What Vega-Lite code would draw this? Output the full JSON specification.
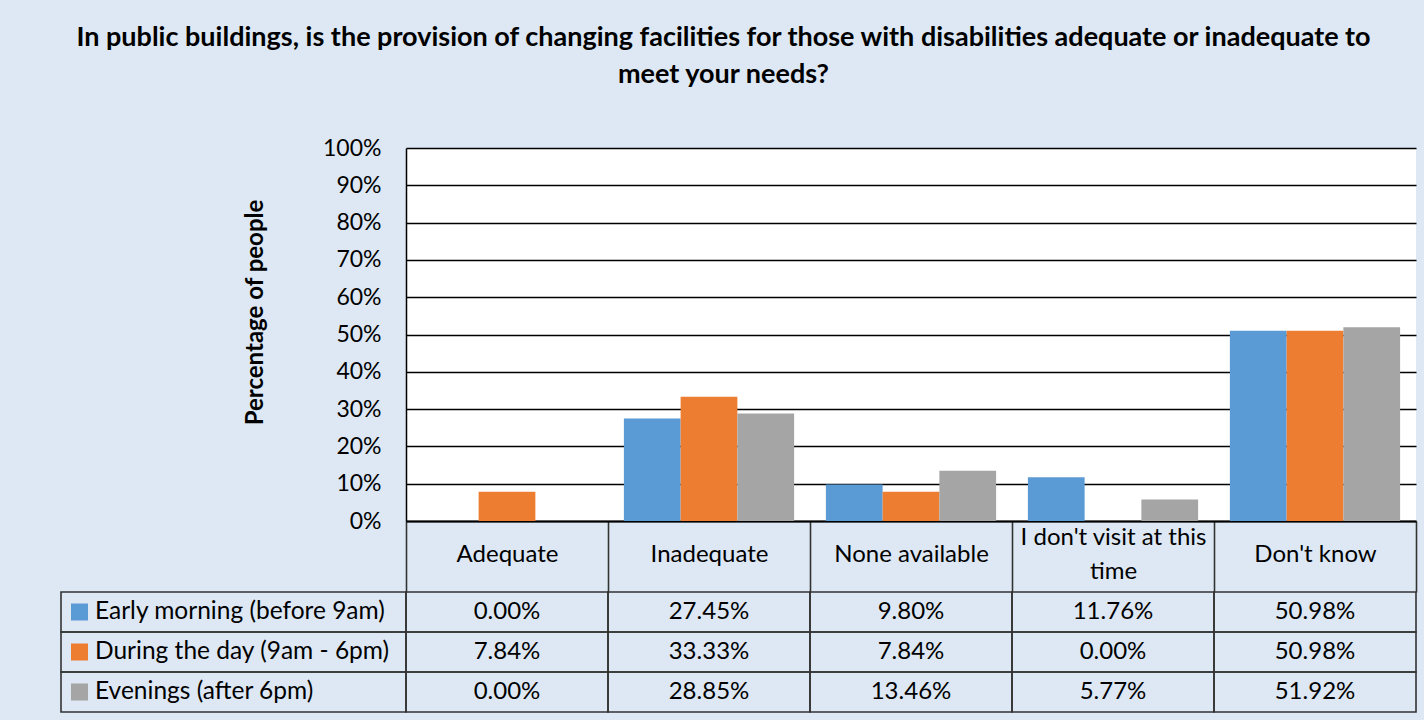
{
  "$schema": "https://vega.github.io/schema/vega-lite/v6.json",
  "background": "#dde8f4",
  "padding": {"left": 60, "top": 24, "right": 9, "bottom": 8},
  "datasets": {
    "table": [
      {"category": "Adequate", "series": "Early morning (before 9am)", "value": 0.0},
      {"category": "Inadequate", "series": "Early morning (before 9am)", "value": 0.2745},
      {"category": "None available", "series": "Early morning (before 9am)", "value": 0.098},
      {"category": "I don't visit at this time", "series": "Early morning (before 9am)", "value": 0.1176},
      {"category": "Don't know", "series": "Early morning (before 9am)", "value": 0.5098},
      {"category": "Adequate", "series": "During the day (9am - 6pm)", "value": 0.0784},
      {"category": "Inadequate", "series": "During the day (9am - 6pm)", "value": 0.3333},
      {"category": "None available", "series": "During the day (9am - 6pm)", "value": 0.0784},
      {"category": "I don't visit at this time", "series": "During the day (9am - 6pm)", "value": 0.0},
      {"category": "Don't know", "series": "During the day (9am - 6pm)", "value": 0.5098},
      {"category": "Adequate", "series": "Evenings (after 6pm)", "value": 0.0},
      {"category": "Inadequate", "series": "Evenings (after 6pm)", "value": 0.2885},
      {"category": "None available", "series": "Evenings (after 6pm)", "value": 0.1346},
      {"category": "I don't visit at this time", "series": "Evenings (after 6pm)", "value": 0.0577},
      {"category": "Don't know", "series": "Evenings (after 6pm)", "value": 0.5192}
    ]
  },
  "title": {
    "text": ["In public buildings, is the provision of changing facilities for those with disabilities adequate or inadequate to", "meet your needs?"],
    "font": "Lato",
    "fontSize": 27,
    "fontWeight": "bold",
    "color": "#000000",
    "anchor": "middle",
    "lineHeight": 37,
    "offset": 48,
    "dx": -15
  },
  "columns": 2,
  "spacing": {"row": 71, "column": 0},
  "bounds": "flush",
  "concat": [
    {
      "width": 345,
      "height": 373,
      "data": {"values": [{"t": ""}]},
      "mark": {"type": "text"},
      "encoding": {"text": {"field": "t"}}
    },
    {
      "width": 1010,
      "height": 373,
      "view": {"fill": "#ffffff", "stroke": null},
      "data": {"name": "table"},
      "mark": {"type": "bar"},
      "encoding": {
        "x": {
          "field": "category",
          "type": "nominal",
          "sort": ["Adequate", "Inadequate", "None available", "I don't visit at this time", "Don't know"],
          "scale": {"paddingInner": 0, "paddingOuter": 0},
          "axis": {
            "title": null,
            "domainColor": "#000000",
            "domainWidth": 2,
            "tickBand": "extent",
            "tickSize": 71,
            "tickColor": "#333333",
            "tickWidth": 1.6,
            "labelAngle": 0,
            "labelFont": "Lato",
            "labelFontSize": 24,
            "labelColor": "#000000",
            "labelBaseline": "middle",
            "labelPadding": {"condition": {"test": "datum.value == \"I don't visit at this time\"", "value": -55}, "value": -38},
            "labelLineHeight": 34,
            "labelLimit": 400,
            "labelOverlap": false,
            "labelExpr": "datum.label == \"I don't visit at this time\" ? [\"I don't visit at this\", \"time\"] : datum.label"
          }
        },
        "xOffset": {
          "field": "series",
          "type": "nominal",
          "sort": ["Early morning (before 9am)", "During the day (9am - 6pm)", "Evenings (after 6pm)"],
          "scale": {"paddingInner": 0, "paddingOuter": 0.28}
        },
        "y": {
          "field": "value",
          "type": "quantitative",
          "scale": {"domain": [0, 1], "nice": false},
          "axis": {
            "values": [0, 0.1, 0.2, 0.3, 0.4, 0.5, 0.6, 0.7, 0.8, 0.9, 1],
            "format": ".0%",
            "grid": true,
            "gridColor": "#000000",
            "gridWidth": 1.4,
            "ticks": false,
            "domainColor": "#000000",
            "domainWidth": 1.5,
            "labelFont": "Lato",
            "labelFontSize": 23,
            "labelColor": "#000000",
            "labelPadding": 25,
            "title": "Percentage of people",
            "titleFont": "Lato",
            "titleFontSize": 24,
            "titleFontWeight": "bold",
            "titleColor": "#000000",
            "titlePadding": 55,
            "titleY": 164
          }
        },
        "color": {
          "field": "series",
          "type": "nominal",
          "scale": {
            "domain": ["Early morning (before 9am)", "During the day (9am - 6pm)", "Evenings (after 6pm)"],
            "range": ["#5b9bd5", "#ed7d31", "#a5a5a5"]
          },
          "legend": null
        }
      }
    },
    {
      "width": 345,
      "height": 120,
      "data": {"name": "table"},
      "transform": [{"filter": "datum.category === 'Adequate'"}],
      "encoding": {
        "y": {
          "field": "series",
          "type": "nominal",
          "sort": ["Early morning (before 9am)", "During the day (9am - 6pm)", "Evenings (after 6pm)"],
          "scale": {"paddingInner": 0, "paddingOuter": 0},
          "axis": null
        }
      },
      "layer": [
        {
          "mark": {"type": "rect", "fill": "transparent", "stroke": "#333333", "strokeWidth": 1.6},
          "encoding": {
            "x": {"datum": 0, "type": "quantitative", "scale": {"domain": [0, 1], "nice": false, "zero": false}, "axis": null},
            "x2": {"datum": 1}
          }
        },
        {
          "mark": {"type": "point", "shape": "square", "filled": true, "size": 289, "opacity": 1},
          "encoding": {
            "x": {"datum": 0.0536, "type": "quantitative"},
            "color": {"field": "series", "type": "nominal", "legend": null}
          }
        },
        {
          "mark": {"type": "text", "align": "left", "font": "Lato", "fontSize": 24.5, "color": "#000000"},
          "encoding": {
            "x": {"datum": 0.0986, "type": "quantitative"},
            "text": {"field": "series"}
          }
        }
      ]
    },
    {
      "width": 1010,
      "height": 120,
      "data": {"name": "table"},
      "encoding": {
        "x": {
          "field": "category",
          "type": "nominal",
          "sort": ["Adequate", "Inadequate", "None available", "I don't visit at this time", "Don't know"],
          "scale": {"paddingInner": 0, "paddingOuter": 0},
          "axis": null
        },
        "y": {
          "field": "series",
          "type": "nominal",
          "sort": ["Early morning (before 9am)", "During the day (9am - 6pm)", "Evenings (after 6pm)"],
          "scale": {"paddingInner": 0, "paddingOuter": 0},
          "axis": null
        }
      },
      "layer": [
        {"mark": {"type": "rect", "fill": "transparent", "stroke": "#333333", "strokeWidth": 1.6}},
        {
          "mark": {"type": "text", "font": "Lato", "fontSize": 24, "color": "#000000"},
          "encoding": {"text": {"field": "value", "type": "quantitative", "format": ".2%"}}
        }
      ]
    }
  ],
  "resolve": {"scale": {"x": "independent", "y": "independent"}},
  "config": {
    "view": {"stroke": null},
    "legend": {"disable": true}
  }
}
